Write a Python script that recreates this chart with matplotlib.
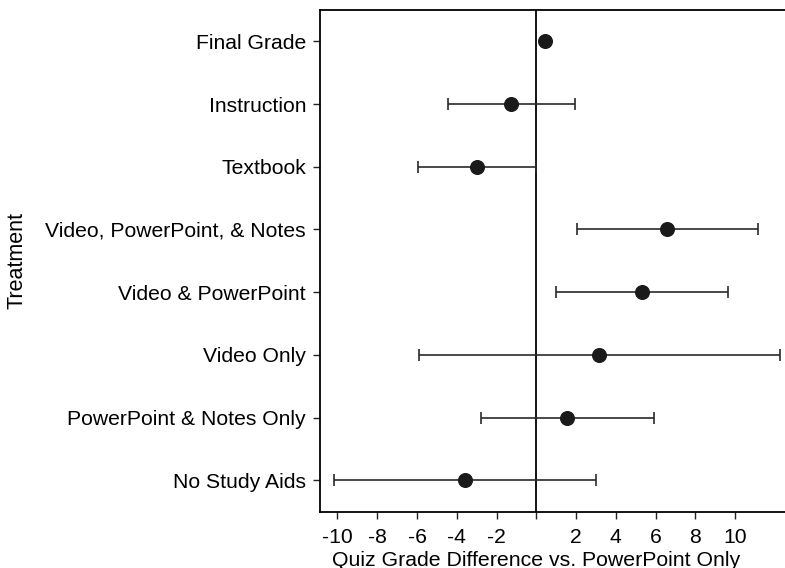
import matplotlib
matplotlib.use("Agg")
import matplotlib.pyplot as plt
import numpy as np

plt.rcParams['font.family'] = ['Liberation Sans', 'DejaVu Sans']

treatments = ["Final Grade", "Instruction", "Textbook", "Video, PowerPoint, & Notes",
              "Video & PowerPoint", "Video Only", "PowerPoint & Notes Only", "No Study Aids"]
estimates = [0.44, -1.27, -3.0, 6.58, 5.3, 3.17, 1.56, -3.6]
ci_low = [np.nan, -4.45, -5.94, 2.03, 0.99, -5.89, -2.76, -10.19]
ci_high = [np.nan, 1.96, -0.03, 11.14, 9.62, 12.24, 5.93, 3.0]
xticks = [-10, -8, -6, -4, -2, 0, 2, 4, 6, 8, 10]
xticklabels = ["-10", "-8", "-6", "-4", "-2", "", "2", "4", "6", "8", "10"]

fig = plt.figure(figsize=(7.85, 5.68), dpi=100)
ax = fig.add_axes([320/785, 1-511.7/568, 1-320/785, (511.7-10)/568])

n = len(treatments)
ypos = np.arange(n, 0, -1)
est = np.array(estimates)
lo = np.array(ci_low)
hi = np.array(ci_high)

ax.axvline(0, color='black', lw=1.3, zorder=1)
mask = ~np.isnan(lo)
ax.errorbar(est[mask], ypos[mask], xerr=[est[mask]-lo[mask], hi[mask]-est[mask]],
            fmt='none', ecolor='#2a2a2a', elinewidth=1.2, capsize=4.5, capthick=1.2, zorder=2)
ax.plot(est, ypos, 'o', color='#1a1a1a', markersize=9.8, zorder=3)

ax.set_xlim(-10.88, 12.51)
ax.set_ylim(0.5, n + 0.5)
ax.set_yticks(ypos)
ax.set_yticklabels(treatments)
ax.set_xticks(xticks)
ax.set_xticklabels(xticklabels)
ax.tick_params(axis='both', labelsize=15.2, length=5, width=1.0, color='#222222')
ax.tick_params(axis='y', pad=5)
ax.tick_params(axis='x', pad=6.5)
ax.spines['right'].set_visible(False)
for s in ['left', 'top', 'bottom']:
    ax.spines[s].set_linewidth(1.3)

fig.text(17/785, 1-260/568, "Treatment", rotation=90, ha='center', va='center', fontsize=15.5)
fig.text(536/785, 1-566/568, "Quiz Grade Difference vs. PowerPoint Only",
         ha='center', va='baseline', fontsize=15.3)

fig.savefig("out.png", dpi=100)
